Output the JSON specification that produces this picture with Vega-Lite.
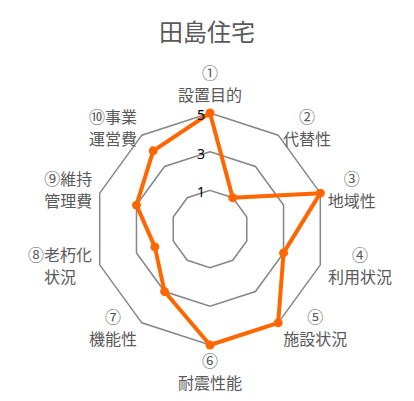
{
  "$schema": "https://vega.github.io/schema/vega-lite/v6.json",
  "width": 414,
  "height": 349,
  "autosize": "none",
  "padding": {"top": 52, "left": 0, "right": 0, "bottom": 0},
  "background": "white",
  "title": {"text": "田島住宅", "font": "Noto Sans CJK JP", "fontSize": 24, "fontWeight": "normal", "color": "#595959", "anchor": "middle", "offset": 6},
  "config": {"view": {"stroke": null}},
  "datasets": {
    "axes": [
      {"k": 0, "item": "①\n設置目的", "score": 5},
      {"k": 1, "item": "②\n代替性", "score": 1},
      {"k": 2, "item": "③\n地域性", "score": 5},
      {"k": 3, "item": "④\n利用状況", "score": 3},
      {"k": 4, "item": "⑤\n施設状況", "score": 5},
      {"k": 5, "item": "⑥\n耐震性能", "score": 5},
      {"k": 6, "item": "⑦\n機能性", "score": 3},
      {"k": 7, "item": "⑧老朽化\n状況", "score": 2},
      {"k": 8, "item": "⑨維持\n管理費", "score": 3},
      {"k": 9, "item": "⑩事業\n運営費", "score": 4}
    ],
    "rings": [
      {"level": 1, "k": 0}, {"level": 1, "k": 1}, {"level": 1, "k": 2}, {"level": 1, "k": 3}, {"level": 1, "k": 4},
      {"level": 1, "k": 5}, {"level": 1, "k": 6}, {"level": 1, "k": 7}, {"level": 1, "k": 8}, {"level": 1, "k": 9},
      {"level": 3, "k": 0}, {"level": 3, "k": 1}, {"level": 3, "k": 2}, {"level": 3, "k": 3}, {"level": 3, "k": 4},
      {"level": 3, "k": 5}, {"level": 3, "k": 6}, {"level": 3, "k": 7}, {"level": 3, "k": 8}, {"level": 3, "k": 9},
      {"level": 5, "k": 0}, {"level": 5, "k": 1}, {"level": 5, "k": 2}, {"level": 5, "k": 3}, {"level": 5, "k": 4},
      {"level": 5, "k": 5}, {"level": 5, "k": 6}, {"level": 5, "k": 7}, {"level": 5, "k": 8}, {"level": 5, "k": 9}
    ],
    "ticks": [{"level": 1}, {"level": 3}, {"level": 5}]
  },
  "layer": [
    {
      "data": {"name": "rings"},
      "transform": [
        {"calculate": "datum.k * PI / 5", "as": "t"},
        {"calculate": "(datum.level + 1) * sin(datum.t)", "as": "px"},
        {"calculate": "(datum.level + 1) * cos(datum.t)", "as": "py"}
      ],
      "mark": {"type": "line", "interpolate": "linear-closed", "color": "#868686", "strokeWidth": 1.5},
      "encoding": {
        "x": {"field": "px", "type": "quantitative", "scale": {"domain": [-10.864, 10.553]}, "axis": null},
        "y": {"field": "py", "type": "quantitative", "scale": {"domain": [-8.898, 9.157]}, "axis": null},
        "detail": {"field": "level"},
        "order": {"field": "k", "type": "quantitative"}
      }
    },
    {
      "data": {"name": "axes"},
      "transform": [
        {"calculate": "datum.k * PI / 5", "as": "t"},
        {"calculate": "(datum.score + 1) * sin(datum.t)", "as": "px"},
        {"calculate": "(datum.score + 1) * cos(datum.t)", "as": "py"}
      ],
      "mark": {"type": "line", "interpolate": "linear-closed", "color": "#ff6600", "strokeWidth": 4, "strokeJoin": "round"},
      "encoding": {
        "x": {"field": "px", "type": "quantitative", "scale": {"domain": [-10.864, 10.553]}, "axis": null},
        "y": {"field": "py", "type": "quantitative", "scale": {"domain": [-8.898, 9.157]}, "axis": null},
        "order": {"field": "k", "type": "quantitative"}
      }
    },
    {
      "data": {"name": "axes"},
      "transform": [
        {"calculate": "datum.k * PI / 5", "as": "t"},
        {"calculate": "(datum.score + 1) * sin(datum.t)", "as": "px"},
        {"calculate": "(datum.score + 1) * cos(datum.t)", "as": "py"}
      ],
      "mark": {"type": "circle", "color": "#ff6600", "opacity": 1, "size": 80},
      "encoding": {
        "x": {"field": "px", "type": "quantitative", "scale": {"domain": [-10.864, 10.553]}, "axis": null},
        "y": {"field": "py", "type": "quantitative", "scale": {"domain": [-8.898, 9.157]}, "axis": null}
      }
    },
    {
      "data": {"name": "axes"},
      "transform": [
        {"calculate": "datum.k * PI / 5", "as": "t"},
        {"calculate": "sin(datum.t)", "as": "s"},
        {"calculate": "cos(datum.t)", "as": "c"},
        {"calculate": "max(length(split(datum.item, '\\n')[0]), length(split(datum.item, '\\n')[1]))", "as": "n"},
        {"calculate": "6.363 * datum.s + (abs(datum.s) < 0.01 ? 0 : 0.427 * datum.n * (datum.s > 0 ? 1 : -1))", "as": "lx"},
        {"calculate": "6.363 * datum.c + (abs(datum.s) < 0.01 ? 1.086 * (datum.c > 0 ? 1 : -1) : 0)", "as": "ly"}
      ],
      "mark": {"type": "text", "font": "Noto Sans CJK JP", "fontSize": 16, "color": "#595959", "align": "center", "baseline": "middle", "lineBreak": "\n", "lineHeight": 22, "dy": -11},
      "encoding": {
        "x": {"field": "lx", "type": "quantitative", "scale": {"domain": [-10.864, 10.553]}, "axis": null},
        "y": {"field": "ly", "type": "quantitative", "scale": {"domain": [-8.898, 9.157]}, "axis": null},
        "text": {"field": "item"}
      }
    },
    {
      "data": {"name": "ticks"},
      "transform": [
        {"calculate": "0", "as": "px"},
        {"calculate": "datum.level + 1", "as": "py"}
      ],
      "mark": {"type": "text", "font": "Noto Sans", "fontSize": 14, "color": "#000000", "align": "right", "baseline": "middle", "dx": -5, "dy": 3},
      "encoding": {
        "x": {"field": "px", "type": "quantitative", "scale": {"domain": [-10.864, 10.553]}, "axis": null},
        "y": {"field": "py", "type": "quantitative", "scale": {"domain": [-8.898, 9.157]}, "axis": null},
        "text": {"field": "level", "type": "nominal"}
      }
    }
  ]
}
